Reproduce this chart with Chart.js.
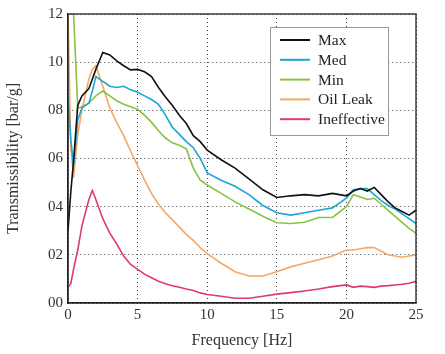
<!DOCTYPE html>
<html>
<head>
<meta charset="utf-8">
<script src="https://cdn.jsdelivr.net/npm/chart.js@4/dist/chart.umd.min.js"></script>
<style>
  html, body { margin: 0; padding: 0; background: #fff; }
  #wrap { width: 445px; height: 354px; }
</style>
</head>
<body>
<div id="wrap"><canvas id="mycanvas" width="445" height="354"></canvas></div>
<script>
// frequency grid (Hz) shared by all curves
var freq = [0, 0.2, 0.4, 0.7, 1, 1.5, 1.75, 2, 2.5, 3, 3.5, 4, 4.5, 5, 5.5, 6, 6.5, 7, 7.5, 8, 8.5, 9, 9.5, 10,
            11, 12, 13, 14, 15, 16, 17, 18, 19, 20, 20.5, 21, 21.5, 22, 22.5, 23, 23.5, 24, 24.5, 25];

var maxVals  = [3.0, 4.6, 5.9, 8.2, 8.6, 8.9, 9.3, 9.7, 10.4, 10.3, 10.05, 9.85, 9.68, 9.7, 9.6, 9.4, 8.95, 8.55, 8.2, 7.8, 7.45, 6.95, 6.7, 6.35,
                5.95, 5.6, 5.15, 4.7, 4.38, 4.45, 4.5, 4.45, 4.55, 4.45, 4.65, 4.75, 4.65, 4.8, 4.5, 4.2, 3.95, 3.8, 3.65, 3.85];
var medVals  = [8.5, 6.8, 5.7, 7.6, 8.1, 8.3, 8.8, 9.4, 9.2, 9.0, 8.95, 9.0, 8.85, 8.75, 8.6, 8.45, 8.25, 7.8, 7.3, 7.0, 6.7, 6.45, 6.0, 5.4,
                5.1, 4.85, 4.5, 4.05, 3.75, 3.65, 3.75, 3.85, 3.95, 4.35, 4.7, 4.75, 4.75, 4.5, 4.25, 4.05, 3.9, 3.7, 3.5, 3.3];
var minVals  = [12, 12, 12, 8.1, 8.15, 8.3, 8.45, 8.6, 8.8, 8.6, 8.4, 8.25, 8.15, 8.05, 7.8, 7.5, 7.15, 6.85, 6.65, 6.55, 6.4, 5.6, 5.1, 4.9,
                4.55, 4.2, 3.9, 3.6, 3.33, 3.3, 3.35, 3.55, 3.55, 4.0, 4.5, 4.4, 4.3, 4.35, 4.1, 3.85, 3.6, 3.35, 3.1, 2.9];
var oilVals  = [12, 6.5, 5.2, 7.0, 8.0, 9.3, 9.7, 9.85, 9.0, 8.1, 7.5, 6.95, 6.3, 5.7, 5.1, 4.55, 4.1, 3.75, 3.45, 3.15, 2.85, 2.6, 2.3, 2.05,
                1.65, 1.3, 1.12, 1.12, 1.3, 1.5, 1.65, 1.8, 1.95, 2.2, 2.2, 2.25, 2.3, 2.3, 2.15, 2.0, 1.95, 1.9, 1.95, 2.0];
var ineffVals = [0.65, 0.8, 1.4, 2.2, 3.2, 4.3, 4.67, 4.3, 3.5, 2.9, 2.45, 1.95, 1.6, 1.4, 1.2, 1.05, 0.9, 0.8, 0.72, 0.65, 0.58, 0.52, 0.42, 0.35,
                 0.28, 0.2, 0.2, 0.28, 0.37, 0.43, 0.5, 0.58, 0.68, 0.75, 0.65, 0.7, 0.68, 0.65, 0.7, 0.72, 0.75, 0.78, 0.82, 0.9];

var seriesNames = ['Max', 'Med', 'Min', 'Oil Leak', 'Ineffective'];
var seriesColors = ['#111111', '#1aa6d6', '#86c440', '#f5a865', '#df3a6c'];
var xTicks = [0, 5, 10, 15, 20, 25];
var yTicks = [0, 2, 4, 6, 8, 10, 12];

function pts(vals) {
  var out = [];
  for (var i in freq) out.push({x: freq[i], y: vals[i]});
  return out;
}

var allVals = [maxVals, medVals, minVals, oilVals, ineffVals];
var datasets = [];
for (var s = 0; s < seriesNames.length; s++) {
  datasets.push({
    label: seriesNames[s],
    data: pts(allVals[s]),
    borderColor: seriesColors[s],
    backgroundColor: seriesColors[s],
    borderWidth: 1.6,
    pointRadius: 0,
    tension: 0,
    fill: false
  });
}

var serif = "'Liberation Serif', 'DejaVu Serif', serif";

// frame around the plot + legend box inside it
var framePlugin = {
  id: 'frame',
  afterDatasetsDraw: function(chart) {
    var c = chart.ctx, a = chart.chartArea;
    c.save();
    c.strokeStyle = '#222';
    c.lineWidth = 1.3;
    c.strokeRect(a.left, a.top, a.right - a.left, a.bottom - a.top);

    // legend
    var bx = 270, by = 27, bw = 118, bh = 108;
    c.fillStyle = '#fff';
    c.fillRect(bx, by, bw, bh);
    c.strokeStyle = '#999';
    c.lineWidth = 1;
    c.strokeRect(bx + 0.5, by + 0.5, bw, bh);
    c.font = "15.5px " + serif;
    c.textBaseline = 'middle';
    for (var i = 0; i < seriesNames.length; i++) {
      var y = 40 + i * 19.8;
      c.strokeStyle = seriesColors[i];
      c.lineWidth = 2;
      c.beginPath();
      c.moveTo(280, y);
      c.lineTo(310, y);
      c.stroke();
      c.fillStyle = '#222';
      c.fillText(seriesNames[i], 318, y + 1);
    }
    c.restore();
  }
};

var ctx = document.getElementById('mycanvas');
var chart = new Chart(ctx, {
  type: 'line',
  data: { datasets: datasets },
  plugins: [framePlugin],
  options: {
    responsive: false,
    animation: false,
    layout: { padding: { top: 10, right: 29, left: 0, bottom: 0 } },
    plugins: { legend: { display: false }, tooltip: { enabled: false } },
    scales: {
      x: {
        type: 'linear',
        min: 0, max: 25,
        afterBuildTicks: function(scale) { scale.ticks = xTicks.map(function(v) { return {value: v}; }); },
        afterFit: function(scale) { scale.height = 51; },
        ticks: { color: '#333', font: { family: serif, size: 15 }, padding: 3 },
        grid: { color: '#444', lineWidth: 1, drawTicks: false },
        border: { color: '#222', width: 1.3, dash: [1, 3] },
        title: { display: true, text: 'Frequency [Hz]', color: '#333', font: { family: serif, size: 16 }, padding: { top: 2 } }
      },
      y: {
        min: 0, max: 12,
        afterBuildTicks: function(scale) { scale.ticks = yTicks.map(function(v) { return {value: v}; }); },
        afterFit: function(scale) { scale.width = 68; },
        ticks: {
          color: '#333', font: { family: serif, size: 15 }, padding: 5,
          callback: function(v) { return String(v).padStart(2, '0'); }
        },
        grid: { color: '#444', lineWidth: 1, drawTicks: false },
        border: { color: '#222', width: 1.3, dash: [1, 3] },
        title: { display: true, text: 'Transmissibility [bar/g]', color: '#333', font: { family: serif, size: 16 }, padding: { bottom: 4 } }
      }
    }
  }
});
</script>
</body>
</html>
